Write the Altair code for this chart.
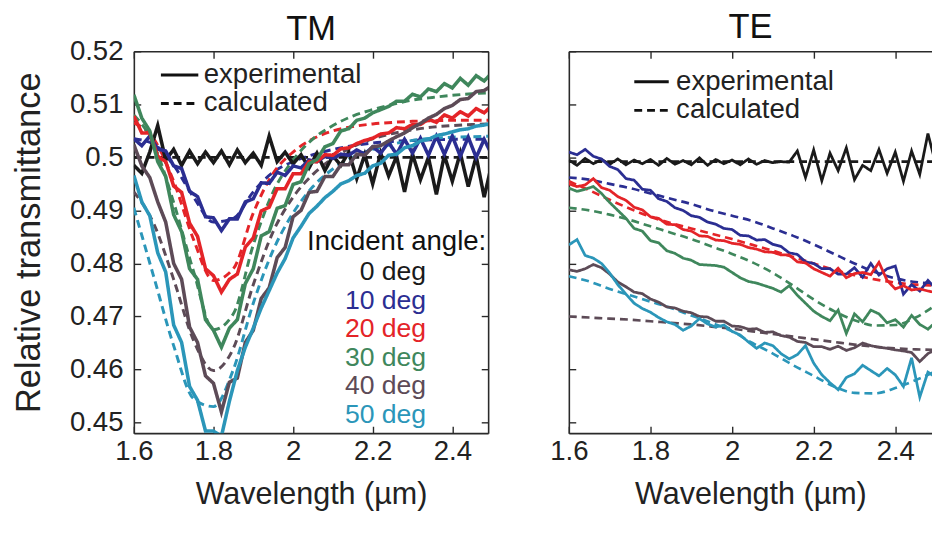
import altair as alt
import pandas as pd

FONT = "Liberation Sans"

ANGLES = ["0 deg", "10 deg", "20 deg", "30 deg", "40 deg", "50 deg"]
COLORS = ["#1a1a1a", "#2b2e92", "#e42428", "#3f875c", "#5d4b57", "#2b96b9"]
KINDS = ["experimental", "calculated"]

# wavelength samples (um)
WL_EXP = [round(1.60 + 0.02 * i, 2) for i in range(46)]
WL_CALC = [round(1.60 + 0.05 * i, 2) for i in range(19)]

X_TICKS = [1.6, 1.8, 2.0, 2.2, 2.4]
Y_TICKS = [0.45, 0.46, 0.47, 0.48, 0.49, 0.50, 0.51, 0.52]

# ---------------- TM, experimental ----------------
TM_EXP_0 = [0.4985, 0.4970, 0.5010, 0.5060, 0.4995, 0.5015, 0.4985, 0.5012, 0.4988, 0.5010,
            0.4990, 0.5012, 0.4986, 0.5014, 0.4990, 0.5008, 0.4985, 0.5040, 0.4992, 0.5010,
            0.4988, 0.5005, 0.4980, 0.5008, 0.4975, 0.5003, 0.4985, 0.5010, 0.4960, 0.5005,
            0.4950, 0.5008, 0.4965, 0.5002, 0.4935, 0.5006, 0.4958, 0.5000, 0.4930, 0.5004,
            0.4955, 0.5008, 0.4945, 0.5002, 0.4925, 0.4990]
TM_EXP_10 = [0.5035, 0.5022, 0.5040, 0.5016, 0.5012, 0.4984, 0.4979, 0.4936, 0.4926, 0.4888,
             0.4886, 0.4862, 0.4884, 0.4884, 0.4916, 0.4922, 0.4952, 0.4951, 0.4972, 0.4966,
             0.4984, 0.4980, 0.4995, 0.4992, 0.5002, 0.4998, 0.5006, 0.5004, 0.5014, 0.5006,
             0.5020, 0.5008, 0.5028, 0.5006, 0.5034, 0.5008, 0.5036, 0.5004, 0.5040, 0.5006,
             0.5040, 0.5002, 0.5038, 0.5000, 0.5034, 0.5004]
TM_EXP_20 = [0.5078, 0.5046, 0.5046, 0.5002, 0.4992, 0.4946, 0.4934, 0.4876, 0.4851, 0.4790,
             0.4777, 0.4746, 0.4770, 0.4780, 0.4831, 0.4848, 0.4899, 0.4906, 0.4941, 0.4941,
             0.4969, 0.4969, 0.4992, 0.4992, 0.5005, 0.5004, 0.5016, 0.5018, 0.5026, 0.5032,
             0.5036, 0.5044, 0.5046, 0.5056, 0.5054, 0.5062, 0.5062, 0.5072, 0.5066, 0.5080,
             0.5074, 0.5086, 0.5078, 0.5092, 0.5084, 0.5098]
TM_EXP_30 = [0.5118, 0.5074, 0.5050, 0.4992, 0.4964, 0.4892, 0.4860, 0.4790, 0.4770, 0.4694,
             0.4674, 0.4642, 0.4678, 0.4694, 0.4762, 0.4790, 0.4852, 0.4860, 0.4904, 0.4909,
             0.4949, 0.4954, 0.4988, 0.4996, 0.5020, 0.5026, 0.5050, 0.5054, 0.5070, 0.5074,
             0.5084, 0.5090, 0.5096, 0.5106, 0.5106, 0.5119, 0.5114, 0.5129, 0.5124, 0.5139,
             0.5131, 0.5149, 0.5136, 0.5154, 0.5144, 0.5160]
TM_EXP_40 = [0.5024, 0.4984, 0.4962, 0.4916, 0.4878, 0.4800, 0.4770, 0.4680, 0.4651, 0.4588,
             0.4574, 0.4520, 0.4576, 0.4584, 0.4651, 0.4674, 0.4734, 0.4754, 0.4811, 0.4830,
             0.4888, 0.4900, 0.4934, 0.4936, 0.4964, 0.4964, 0.4986, 0.4986, 0.5006, 0.5004,
             0.5020, 0.5022, 0.5031, 0.5039, 0.5046, 0.5056, 0.5064, 0.5074, 0.5081, 0.5092,
             0.5098, 0.5109, 0.5111, 0.5124, 0.5126, 0.5136]
TM_EXP_50 = [0.4966, 0.4916, 0.4890, 0.4820, 0.4784, 0.4684, 0.4651, 0.4568, 0.4542, 0.4484,
             0.4484, 0.4474, 0.4540, 0.4598, 0.4642, 0.4678, 0.4716, 0.4749, 0.4782, 0.4809,
             0.4848, 0.4870, 0.4894, 0.4908, 0.4924, 0.4936, 0.4950, 0.4956, 0.4966, 0.4970,
             0.4984, 0.4989, 0.5004, 0.5006, 0.5018, 0.5022, 0.5031, 0.5034, 0.5041, 0.5044,
             0.5048, 0.5052, 0.5054, 0.5059, 0.5061, 0.5064]

# ---------------- TM, calculated ----------------
TM_CALC_0 = [0.5000] * 19
TM_CALC_10 = [0.5035, 0.5025, 0.4985, 0.4925, 0.4878, 0.4885, 0.4935, 0.4972, 0.4992, 0.5005,
              0.5015, 0.5022, 0.5027, 0.5030, 0.5032, 0.5033, 0.5034, 0.5034, 0.5034]
TM_CALC_20 = [0.5065, 0.5035, 0.4955, 0.4845, 0.4768, 0.4790, 0.4895, 0.4970, 0.5010, 0.5035,
              0.5050, 0.5058, 0.5063, 0.5066, 0.5068, 0.5069, 0.5070, 0.5070, 0.5070]
TM_CALC_30 = [0.5080, 0.5025, 0.4915, 0.4785, 0.4675, 0.4705, 0.4835, 0.4935, 0.4995, 0.5035,
              0.5060, 0.5078, 0.5090, 0.5100, 0.5108, 0.5113, 0.5117, 0.5120, 0.5122]
TM_CALC_40 = [0.4935, 0.4875, 0.4770, 0.4655, 0.4598, 0.4640, 0.4760, 0.4860, 0.4925, 0.4968,
              0.4998, 0.5020, 0.5035, 0.5045, 0.5052, 0.5057, 0.5060, 0.5062, 0.5063]
TM_CALC_50 = [0.4905, 0.4775, 0.4645, 0.4545, 0.4530, 0.4600, 0.4725, 0.4825, 0.4895, 0.4945,
              0.4978, 0.5000, 0.5015, 0.5025, 0.5032, 0.5036, 0.5038, 0.5039, 0.5040]

# ---------------- TE, experimental ----------------
TE_EXP_0 = [0.4995, 0.4985, 0.4998, 0.4988, 0.4996, 0.4987, 0.4997, 0.4986, 0.4995, 0.4988,
            0.4996, 0.4985, 0.4998, 0.4987, 0.4994, 0.4986, 0.4999, 0.4985, 0.4996, 0.4988,
            0.4995, 0.4986, 0.4997, 0.4987, 0.4994, 0.4990, 0.4992, 0.4991, 0.5012, 0.4962,
            0.5014, 0.4956, 0.5008, 0.4975, 0.5018, 0.4958, 0.4985, 0.4975, 0.5015, 0.4970,
            0.5010, 0.4955, 0.5012, 0.4968, 0.5045, 0.4985]
TE_EXP_10 = [0.5010, 0.5005, 0.5015, 0.5002, 0.4997, 0.4983, 0.4977, 0.4960, 0.4957, 0.4940,
             0.4938, 0.4922, 0.4917, 0.4905, 0.4900, 0.4890, 0.4887, 0.4878, 0.4874, 0.4866,
             0.4864, 0.4853, 0.4852, 0.4844, 0.4845, 0.4836, 0.4832, 0.4820, 0.4817, 0.4803,
             0.4800, 0.4790, 0.4790, 0.4780, 0.4780, 0.4792, 0.4774, 0.4800, 0.4778, 0.4790,
             0.4795, 0.4742, 0.4760, 0.4748, 0.4768, 0.4752]
TE_EXP_20 = [0.4950, 0.4945, 0.4948, 0.4960, 0.4943, 0.4938, 0.4926, 0.4919, 0.4906, 0.4901,
             0.4888, 0.4885, 0.4874, 0.4873, 0.4864, 0.4861, 0.4852, 0.4851, 0.4844, 0.4843,
             0.4838, 0.4836, 0.4830, 0.4827, 0.4822, 0.4821, 0.4816, 0.4816, 0.4803, 0.4801,
             0.4790, 0.4783, 0.4776, 0.4791, 0.4773, 0.4781, 0.4783, 0.4779, 0.4802, 0.4768,
             0.4752, 0.4758, 0.4750, 0.4752, 0.4748, 0.4745]
TE_EXP_30 = [0.4942, 0.4936, 0.4940, 0.4945, 0.4932, 0.4915, 0.4900, 0.4885, 0.4866, 0.4861,
             0.4843, 0.4839, 0.4824, 0.4819, 0.4810, 0.4806, 0.4798, 0.4797, 0.4796, 0.4793,
             0.4783, 0.4773, 0.4766, 0.4763, 0.4758, 0.4753, 0.4746, 0.4758, 0.4740, 0.4725,
             0.4710, 0.4700, 0.4692, 0.4712, 0.4668, 0.4705, 0.4690, 0.4712, 0.4705, 0.4688,
             0.4694, 0.4680, 0.4702, 0.4685, 0.4676, 0.4690]
TE_EXP_40 = [0.4788, 0.4785, 0.4790, 0.4798, 0.4792, 0.4780, 0.4765, 0.4756, 0.4746, 0.4743,
             0.4733, 0.4727, 0.4718, 0.4716, 0.4710, 0.4707, 0.4700, 0.4699, 0.4691, 0.4691,
             0.4682, 0.4681, 0.4676, 0.4677, 0.4670, 0.4671, 0.4664, 0.4661, 0.4653, 0.4651,
             0.4643, 0.4643, 0.4638, 0.4644, 0.4636, 0.4641, 0.4650, 0.4645, 0.4642, 0.4640,
             0.4637, 0.4635, 0.4632, 0.4615, 0.4630, 0.4638]
TE_EXP_50 = [0.4835, 0.4845, 0.4815, 0.4810, 0.4800, 0.4782, 0.4760, 0.4742, 0.4725, 0.4715,
             0.4708, 0.4698, 0.4690, 0.4685, 0.4674, 0.4682, 0.4696, 0.4686, 0.4680, 0.4684,
             0.4672, 0.4665, 0.4652, 0.4640, 0.4650, 0.4645, 0.4630, 0.4620, 0.4628, 0.4645,
             0.4612, 0.4590, 0.4575, 0.4562, 0.4585, 0.4592, 0.4608, 0.4598, 0.4588, 0.4602,
             0.4590, 0.4568, 0.4622, 0.4548, 0.4595, 0.4585]

# ---------------- TE, calculated ----------------
TE_CALC_0 = [0.4992] * 19
TE_CALC_10 = [0.4962, 0.4958, 0.4950, 0.4942, 0.4932, 0.4922, 0.4912, 0.4900, 0.4890, 0.4880,
              0.4866, 0.4852, 0.4836, 0.4818, 0.4800, 0.4784, 0.4772, 0.4765, 0.4762]
TE_CALC_20 = [0.4955, 0.4938, 0.4920, 0.4903, 0.4888, 0.4876, 0.4866, 0.4856, 0.4846, 0.4835,
              0.4824, 0.4812, 0.4800, 0.4788, 0.4778, 0.4770, 0.4764, 0.4760, 0.4758]
TE_CALC_30 = [0.4905, 0.4900, 0.4892, 0.4882, 0.4870, 0.4858, 0.4846, 0.4832, 0.4818, 0.4802,
              0.4782, 0.4758, 0.4732, 0.4710, 0.4693, 0.4683, 0.4684, 0.4698, 0.4722]
TE_CALC_40 = [0.4700, 0.4698, 0.4696, 0.4694, 0.4691, 0.4688, 0.4685, 0.4681, 0.4677, 0.4672,
              0.4667, 0.4662, 0.4657, 0.4652, 0.4647, 0.4643, 0.4640, 0.4638, 0.4637]
TE_CALC_50 = [0.4776, 0.4766, 0.4752, 0.4740, 0.4728, 0.4716, 0.4702, 0.4688, 0.4672, 0.4650,
              0.4630, 0.4608, 0.4588, 0.4568, 0.4556, 0.4555, 0.4565, 0.4580, 0.4597]


def table(wl, series, kind):
    rows = []
    for angle, vals in zip(ANGLES, series):
        for x, v in zip(wl, vals):
            rows.append({"wl": x, "T": v, "angle": angle, "kind": kind})
    return pd.DataFrame(rows)


tm_exp = table(WL_EXP, [TM_EXP_0, TM_EXP_10, TM_EXP_20, TM_EXP_30, TM_EXP_40, TM_EXP_50], "experimental")
tm_calc = table(WL_CALC, [TM_CALC_0, TM_CALC_10, TM_CALC_20, TM_CALC_30, TM_CALC_40, TM_CALC_50], "calculated")
te_exp = table(WL_EXP, [TE_EXP_0, TE_EXP_10, TE_EXP_20, TE_EXP_30, TE_EXP_40, TE_EXP_50], "experimental")
te_calc = table(WL_CALC, [TE_CALC_0, TE_CALC_10, TE_CALC_20, TE_CALC_30, TE_CALC_40, TE_CALC_50], "calculated")

AX = "#2a2a2a"
INWARD = alt.ExprRef("-7")

x_scale = alt.Scale(domain=[1.6, 2.49], nice=False, zero=False)
y_scale = alt.Scale(domain=[0.448, 0.52], nice=False, zero=False)
color_scale = alt.Scale(domain=ANGLES, range=COLORS)
dash_scale = alt.Scale(domain=KINDS, range=[[1, 0], [8, 5]])


def base_axis(**kw):
    return alt.Axis(grid=False, domainColor=AX, domainWidth=1.6, tickColor=AX, tickWidth=1.4,
                    tickSize=INWARD, labelFont=FONT, labelFontSize=28, labelColor="#222",
                    labelFlush=False, labelOverlap=False,
                    titleFont=FONT, titleFontWeight="normal", titleColor="#222", **kw)


def dash_legend(lx, ly, size, off):
    return alt.Legend(orient="none", legendX=lx, legendY=ly, title=None, symbolType="stroke",
                      symbolSize=size, symbolStrokeWidth=3, symbolStrokeColor="#111",
                      labelFont=FONT, labelFontSize=28, labelColor="#222", labelOffset=off,
                      labelLimit=500, rowPadding=1, clipHeight=28, padding=0)


def panel(name, exp_df, calc_df, width, tm):
    x_bottom = alt.X("wl:Q", scale=x_scale, axis=base_axis(
        values=X_TICKS, format="~g", title="Wavelength (µm)", titleFontSize=31,
        labelPadding=12, titlePadding=14))
    x_top = alt.X("wl:Q", scale=x_scale, axis=base_axis(
        values=X_TICKS, orient="top", labels=False, title=None))
    if tm:
        y_left = alt.Y("T:Q", scale=y_scale, axis=base_axis(
            values=Y_TICKS, format=".2~f", title="Relative transmittance", titleFontSize=35,
            labelPadding=18, titlePadding=23))
        y_right = alt.Y("T:Q", scale=y_scale, axis=base_axis(
            values=Y_TICKS, orient="right", labels=False, title=None))
        color_legend = alt.Legend(
            orient="none", legendX=176, legendY=180, title="Incident angle:",
            titleFont=FONT, titleFontSize=28, titleFontWeight="normal", titleColor="#111",
            titlePadding=3, titleLimit=500, labelFont=FONT, labelFontSize=27, labelAlign="right",
            labelOffset=94, labelLimit=500, symbolSize=0, symbolOpacity=0, symbolStrokeWidth=0,
            rowPadding=1, padding=0,
            labelColor=alt.ExprRef("scale('color', datum.value)"))
        dl = dash_legend(26, 10, 1444, 4)
        sw_exp, sw_calc = 3.6, 3.0
        t_off = -10
    else:
        y_left = alt.Y("T:Q", scale=y_scale, axis=base_axis(
            values=Y_TICKS, labels=False, title=None))
        y_right = alt.Y("T:Q", scale=y_scale, axis=None)
        color_legend = None
        dl = dash_legend(65, 17, 1225, 6)
        sw_exp, sw_calc = 2.8, 2.7
        t_off = 6

    color = alt.Color("angle:N", scale=color_scale, legend=color_legend)
    dash = alt.StrokeDash("kind:N", scale=dash_scale, legend=dl)

    exp_layer = alt.Chart(exp_df).mark_line(strokeWidth=sw_exp, clip=True).encode(
        x=x_bottom, y=y_left, color=color, strokeDash=dash)
    calc_layer = alt.Chart(calc_df).mark_line(strokeWidth=sw_calc, clip=True, interpolate="monotone").encode(
        x=x_top, y=y_right, color=color, strokeDash=dash)

    return alt.layer(calc_layer, exp_layer).resolve_axis(x="independent", y="independent").properties(
        width=width, height=388,
        title=alt.TitleParams(name, font=FONT, fontSize=35, fontWeight="normal", color="#111",
                              anchor="middle", offset=t_off))


tm = panel("TM", tm_exp, tm_calc, 360, True)
te = panel("TE", te_exp, te_calc, 369, False)

chart = alt.hconcat(tm, te, spacing=61).resolve_legend(
    color="independent", strokeDash="independent"
).configure_view(strokeWidth=0).properties(
    padding={"left": 12, "top": 6, "right": 0, "bottom": 0}
)

chart.save("out.html", embed_options={"renderer": "svg", "actions": False})
